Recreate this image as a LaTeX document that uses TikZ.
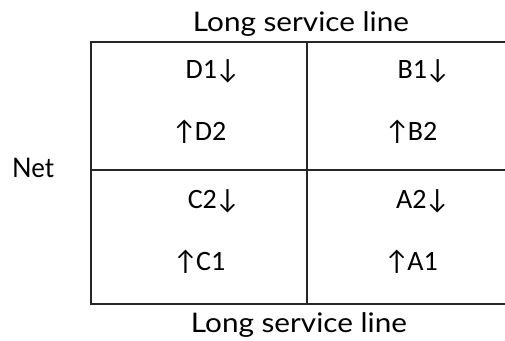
\documentclass[tikz,border=0pt]{standalone}
\usepackage{fontspec}
\setmainfont{Carlito}
\newfontfamily\cellfont{Carlito}
\newfontfamily\labelfont[FakeStretch=1.1]{Lato}
\newfontfamily\netfont[FakeStretch=0.95]{Lato}
\begin{document}
\begin{tikzpicture}[x=1pt,y=-1pt,
  cell/.style={font=\cellfont\fontsize{28}{32}\selectfont, inner sep=0pt, anchor=center},
  lbl/.style={font=\labelfont\fontsize{27}{30}\selectfont, inner sep=0pt, anchor=base},
  netlbl/.style={font=\netfont\fontsize{27}{30}\selectfont, inner sep=0pt, anchor=base},
  grid/.style={line width=1.6pt, draw=black!85}]
\useasboundingbox (0,0) rectangle (505,340);
\draw[grid] (520,42) -- (91,42) -- (91,304) -- (520,304);
\draw[grid] (91,170) -- (520,170);
\draw[grid] (307,42) -- (307,304);
\node[lbl] (top) at (301,31) {Long service line};
\node[lbl] (bot) at (299,332) {Long service line};
\node[netlbl] (net) at (33,177) {Net};
\node[cell] (d1) at (213,71) {D1\kern-2pt↓};
\node[cell] (d2) at (199,132) {↑\kern-2pt D2};
\node[cell] (b1) at (424,71) {B1\kern-2pt↓};
\node[cell] (b2) at (411,132) {↑\kern-2pt B2};
\node[cell] (c2) at (214,201) {C2\kern-2pt↓};
\node[cell] (c1) at (199,262) {↑\kern-2pt C1};
\node[cell] (a2) at (423,201) {A2\kern-2pt↓};
\node[cell] (a1) at (411,262) {↑\kern-2pt A1};
\end{tikzpicture}
\end{document}
